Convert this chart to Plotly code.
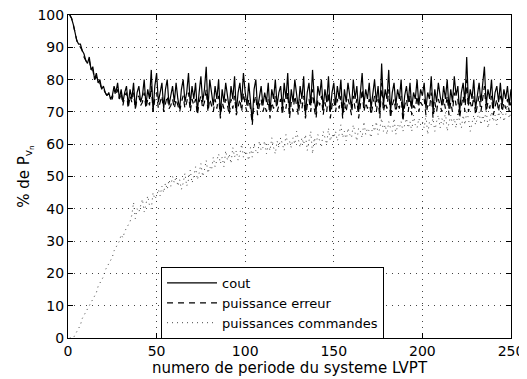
import plotly.graph_objects as go

cout = [
100, 99, 97, 94, 92, 91, 91, 89, 88, 86,
85, 87, 83, 84, 80, 82, 79, 80, 77, 78,
76, 75, 76, 74, 75, 78, 76, 79, 74, 77,
73, 76, 78, 72, 77, 74, 79, 71, 76, 78,
73, 75, 80, 72, 77, 74, 83, 70, 78, 82,
73, 76, 79, 71, 77, 80, 72, 75, 78, 73,
79, 74, 71, 77, 80, 73, 76, 82, 72, 78,
74, 79, 70, 76, 81, 73, 77, 84, 71, 80,
75, 72, 78, 74, 80, 69, 77, 73, 79, 75,
71, 78, 74, 81, 70, 76, 79, 73, 82, 76,
72, 79, 74, 67, 77, 80, 71, 75, 78, 72,
76, 73, 79, 70, 77, 74, 80, 72, 76, 78,
71, 79, 74, 82, 70, 77, 73, 80, 75, 71,
78, 74, 81, 69, 76, 79, 72, 83, 74, 70,
78, 75, 80, 71, 77, 73, 81, 70, 76, 79,
72, 78, 74, 80, 69, 77, 73, 79, 75, 71,
80, 74, 78, 70, 76, 82, 72, 77, 74, 79,
71, 76, 80, 73, 78, 70, 85, 72, 77, 74,
83, 70, 76, 79, 72, 77, 74, 80, 69, 75,
78, 73, 79, 71, 76, 74, 80, 72, 77, 75,
79, 71, 76, 74, 81, 70, 77, 73, 79, 75,
72, 78, 74, 80, 71, 77, 73, 81, 75, 78,
70, 76, 79, 73, 87, 72, 77, 74, 80, 71,
76, 79, 73, 78, 84, 72, 77, 74, 80, 71,
76, 78, 73, 79, 72, 77, 74, 78, 72, 77,
]

puissance_erreur = [
100, 99, 97, 94, 92, 91, 90, 89, 87, 86,
85, 86, 83, 83, 80, 81, 79, 79, 77, 77,
76, 75, 75, 74, 74, 77, 75, 77, 74, 76,
72, 75, 76, 71, 75, 73, 76, 71, 74, 75,
72, 73, 76, 71, 74, 72, 78, 70, 74, 76,
71, 73, 75, 70, 73, 75, 71, 72, 74, 71,
74, 72, 70, 73, 75, 71, 73, 76, 70, 74,
72, 74, 69, 73, 75, 71, 73, 77, 70, 74,
72, 70, 74, 71, 75, 68, 73, 71, 74, 72,
69, 74, 71, 75, 69, 72, 74, 70, 76, 72,
70, 74, 71, 66, 73, 75, 69, 72, 74, 70,
72, 70, 74, 68, 73, 71, 75, 70, 72, 74,
69, 74, 71, 76, 68, 73, 70, 75, 72, 69,
74, 71, 75, 68, 72, 74, 70, 77, 71, 68,
74, 72, 75, 69, 73, 70, 76, 68, 72, 74,
70, 74, 71, 75, 68, 73, 70, 74, 72, 69,
75, 71, 74, 68, 72, 77, 70, 73, 71, 74,
69, 72, 75, 70, 74, 68, 79, 70, 73, 71,
77, 68, 72, 74, 70, 73, 71, 75, 67, 72,
74, 70, 75, 69, 72, 71, 75, 70, 73, 72,
74, 69, 72, 71, 76, 68, 73, 70, 74, 72,
70, 74, 71, 75, 69, 73, 70, 76, 72, 74,
68, 72, 75, 70, 80, 70, 73, 71, 75, 69,
72, 75, 70, 74, 78, 70, 73, 71, 75, 69,
72, 74, 70, 75, 70, 73, 71, 74, 70, 73,
]

puissances_commandes = [
0, 0, 0, 1, 2, 3, 4, 6, 7, 8,
9, 10, 11, 12, 13, 14, 16, 17, 18, 19,
21, 22, 23, 24, 25, 27, 28, 29, 30, 32,
31, 33, 34, 35, 36, 38, 42, 37, 40, 39,
41, 43, 39, 42, 44, 41, 40, 45, 43, 44,
46, 44, 47, 45, 48, 46, 49, 47, 50, 48,
50, 47, 49, 46, 48, 51, 47, 49, 52, 48,
50, 53, 49, 51, 54, 50, 52, 55, 51, 53,
52, 56, 53, 55, 57, 54, 56, 53, 58, 55,
57, 54, 59, 56, 58, 55, 57, 60, 56, 58,
57, 55, 59, 56, 60, 58, 57, 61, 58, 59,
61, 57, 60, 58, 62, 59, 57, 61, 59, 62,
60, 58, 63, 60, 61, 59, 62, 60, 64, 61,
59, 62, 60, 63, 58, 61, 64, 57, 62, 60,
63, 61, 59, 64, 62, 60, 65, 61, 63, 62,
64, 61, 63, 66, 62, 64, 61, 65, 63, 62,
66, 63, 61, 65, 64, 62, 67, 63, 65, 64,
62, 66, 64, 67, 63, 65, 68, 64, 66, 63,
67, 65, 64, 68, 63, 66, 65, 67, 64, 66,
68, 65, 67, 64, 69, 66, 65, 68, 66, 67,
65, 69, 63, 67, 66, 68, 64, 67, 69, 65,
68, 66, 70, 64, 67, 69, 66, 68, 65, 70,
67, 65, 69, 66, 70, 68, 64, 67, 69, 66,
68, 70, 66, 69, 67, 71, 65, 68, 70, 67,
69, 66, 70, 68, 71, 67, 69, 72, 68, 70,
]

periods = list(range(1, len(cout) + 1))
x_ticks = [0, 50, 100, 150, 200, 250]
y_ticks = [0, 10, 20, 30, 40, 50, 60, 70, 80, 90, 100]

FONT = "DejaVu Sans"

fig = go.Figure()
fig.add_trace(go.Scatter(x=periods, y=cout, mode="lines", name="cout",
                         line=dict(color="black", width=1.2)))
fig.add_trace(go.Scatter(x=periods, y=puissance_erreur, mode="lines", name="puissance erreur",
                         line=dict(color="black", width=1.2, dash="6px,5px")))
fig.add_trace(go.Scatter(x=periods, y=puissances_commandes, mode="lines", name="puissances commandes",
                         line=dict(color="#444444", width=1, dash="1px,4px")))

axis_common = dict(
    showline=True, linecolor="black", linewidth=1, mirror="ticks",
    ticks="inside", ticklen=5, tickcolor="black",
    showgrid=True, gridcolor="#444444", griddash="1px,5px", gridwidth=1,
    zeroline=False, automargin=False, ticklabeloverflow="allow",
    tickfont=dict(family=FONT, size=14, color="black"),
)

fig.update_xaxes(range=[0, 250], tickvals=x_ticks,
                 title=dict(text="numero de periode du systeme LVPT",
                            font=dict(family=FONT, size=15, color="black"), standoff=2),
                 **axis_common)
fig.update_yaxes(range=[0, 100], tickvals=y_ticks,
                 title=dict(text="% de P<sub>v<sub>n</sub></sub>",
                            font=dict(family=FONT, size=15, color="black"), standoff=4),
                 **axis_common)

# The page body has an 8px margin, so the figure is sized to fit the window.
fig.update_layout(
    width=519, height=371,
    margin=dict(l=60, r=16, t=7, b=41),
    paper_bgcolor="white", plot_bgcolor="white",
    font=dict(family=FONT, size=14, color="black"),
    showlegend=True,
    legend=dict(x=0.21, y=0.22, xanchor="left", yanchor="top",
                bgcolor="white", bordercolor="black", borderwidth=1,
                font=dict(family=FONT, size=13, color="black"),
                itemwidth=50, tracegroupgap=0),
)

fig.write_html("out.html")
